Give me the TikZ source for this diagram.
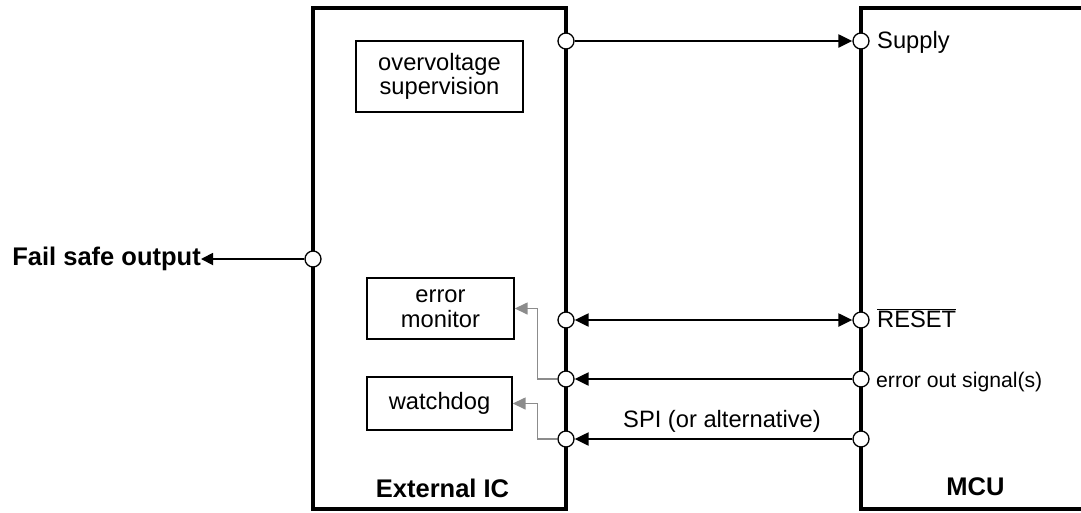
\documentclass[tikz,border=0pt]{standalone}
\usepackage{fontspec}
\setmainfont{Liberation Sans}
\usetikzlibrary{arrows.meta}
\begin{document}
\begin{tikzpicture}[x=1pt,y=-1pt,
  txt/.style={font=\fontsize{23.7}{24.5}\selectfont},
  small/.style={font=\fontsize{21.2}{23}\selectfont},
  btxt/.style={font=\fontsize{25.5}{26}\selectfont\bfseries},
  pin/.style={circle,draw,fill=white,line width=1.3pt,minimum size=16pt,inner sep=0pt},
  blk/.style={draw,line width=1.4pt,align=center,inner sep=0pt,txt},
  chip/.style={draw,line width=3.2pt,inner sep=0pt},
  arr/.style={line width=2.2pt,-{Triangle[length=14pt,width=13pt]}},
  darr/.style={line width=2.2pt,{Triangle[length=14pt,width=13pt]}-{Triangle[length=14pt,width=13pt]}},
  farr/.style={line width=1.8pt,-{Triangle[length=12pt,width=12pt]}},
  garr/.style={line width=1.5pt,draw=black!45,-{Triangle[length=13pt,width=12pt]}},
  lbl/.style={anchor=base west,inner sep=0pt}]
\useasboundingbox (0,0) rectangle (1081,512);
% chips
\node[chip,minimum width=253pt,minimum height=501pt] (ext) at (439.5,258.5) {};
\coordinate (mtr) at (1085,8);
\coordinate (mtl) at (861,8);
\coordinate (mbl) at (861,509);
\coordinate (mbr) at (1085,509);
\draw[line width=3.2pt] (mtr) -- (mtl) -- (mbl) -- (mbr);
% inner blocks
\node[blk,minimum width=167pt,minimum height=71pt] (ov) at (439.5,76.5) {overvoltage\\supervision};
\node[blk,minimum width=147pt,minimum height=61pt] (em) at (440.5,308.5) {error\\monitor};
\node[blk,minimum width=145pt,minimum height=53pt] (wd) at (439.5,403.5) {watchdog};
% pins
\node[pin] (e0) at (313,259) {};
\node[pin] (e1) at (566,41) {};
\node[pin] (e2) at (566,320) {};
\node[pin] (e3) at (566,379) {};
\node[pin] (e4) at (566,439) {};
\node[pin] (m1) at (861,41) {};
\node[pin] (m2) at (861,320) {};
\node[pin] (m3) at (861,379) {};
\node[pin] (m4) at (861,439) {};
% labels
\node[btxt,anchor=east,inner sep=0pt] (fs) at (201,259) {Fail safe output};
\node[lbl,txt] (ls) at (877,48) {Supply};
\node[lbl,txt] (lr) at (877,327) {$\overline{\hbox{\fontsize{23.7}{24.5}\selectfont RESET}}$};
\node[lbl,small] (le) at (876,387) {error out signal(s)};
\node[txt,anchor=base,inner sep=0pt] (lspi) at (722,427) {SPI (or alternative)};
\node[btxt,anchor=base,inner sep=0pt] (lext) at (442.5,497) {External IC};
\node[btxt,anchor=base,inner sep=0pt] (lmcu) at (975.5,495) {MCU};
% connectors
\draw[arr] (e1) -- (m1);
\draw[darr] (e2) -- (m2);
\draw[arr] (m3) -- (e3);
\draw[arr] (m4) -- (e4);
\draw[farr] (e0) -- (fs.east);
\draw[garr] (e3.west) -- ++(-20,0) |- (em.east);
\draw[garr] (e4.west) -- ++(-20,0) |- (wd.east);
\end{tikzpicture}
\end{document}
